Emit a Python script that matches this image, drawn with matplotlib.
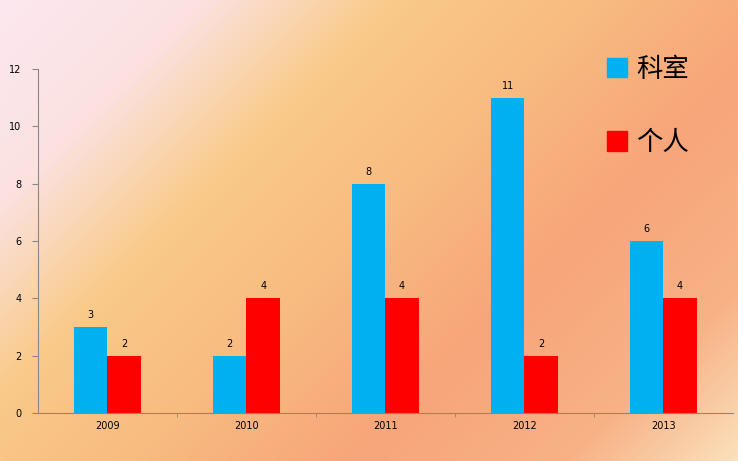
import numpy as np
import matplotlib.pyplot as plt
from matplotlib.colors import LinearSegmentedColormap
from matplotlib.patches import Patch

plt.rcParams['font.family'] = ['Noto Sans CJK SC', 'DejaVu Sans']

years = ['2009', '2010', '2011', '2012', '2013']
keshi = [3, 2, 8, 11, 6]
geren = [2, 4, 4, 2, 4]

fig = plt.figure(figsize=(7.38, 4.61), dpi=100)

# gradient background
bg = fig.add_axes([0, 0, 1, 1], zorder=-10)
gx, gy = np.meshgrid(np.linspace(0, 1, 400), np.linspace(0, 1, 250))
t = (gx * 738 + gy * 461) / (738 + 461)
cmap = LinearSegmentedColormap.from_list('bg', [
    (0.0, '#fde8f0'), (0.17, '#fbe2e0'), (0.33, '#f9ca88'),
    (0.5, '#f8bb80'), (0.68, '#f7a57a'), (0.86, '#f8b286'), (1.0, '#fbe0bc')])
bg.imshow(t, cmap=cmap, aspect='auto', extent=[0, 1, 0, 1], origin='upper')
bg.axis('off')

ax = fig.add_axes([0.0515, 0.104, 0.9415, 0.746])
ax.set_facecolor('none')
x = np.arange(len(years))
w = 0.24
b1 = ax.bar(x - w / 2, keshi, w, color='#00b0f0')
b2 = ax.bar(x + w / 2, geren, w, color='#ff0000')
for bars, vals in ((b1, keshi), (b2, geren)):
    for b, v in zip(bars, vals):
        ax.text(b.get_x() + b.get_width() / 2, v + 0.25, str(v),
                ha='center', va='bottom', fontsize=7, family='DejaVu Sans')

ax.set_xlim(-0.5, 4.5)
ax.set_ylim(0, 12)
ax.set_yticks(range(0, 13, 2))
ax.set_xticks(x)
ax.set_xticklabels(years)
ax.set_xticks(np.arange(0.5, 4.5, 1), minor=True)
ax.tick_params(axis='x', which='major', length=0, labelsize=7, pad=6)
ax.tick_params(axis='x', which='minor', length=3, direction='out', color='#888888')
ax.tick_params(axis='y', labelsize=7, length=4, color='#888888', pad=8)
for s in ('top', 'right'):
    ax.spines[s].set_visible(False)
for s in ('left', 'bottom'):
    ax.spines[s].set_color('#888888')
    ax.spines[s].set_linewidth(0.8)
for lab in ax.get_xticklabels() + ax.get_yticklabels():
    lab.set_family('DejaVu Sans')

handles = [Patch(color='#00b0f0', label='科室'), Patch(color='#ff0000', label='个人')]
fig.legend(handles=handles, loc='upper left', bbox_to_anchor=(0.79, 0.93),
           frameon=False, fontsize=19, handlelength=0.75, handleheight=0.75,
           handletextpad=0.35, labelspacing=1.75)

fig.savefig('out.png', dpi=100)
